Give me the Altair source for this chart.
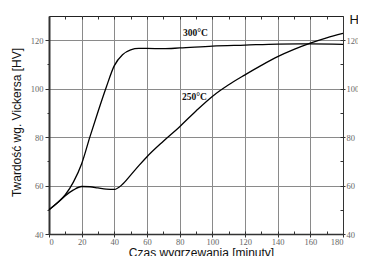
import altair as alt
import pandas as pd

# 300°C series (time [min], hardness [HV])
t300 = [0, 5, 10, 15, 20, 25, 30, 35, 40, 45, 50, 55, 60, 70, 80, 100, 120, 140, 160, 180]
hv300 = [50, 52.8, 56.2, 61.5, 69, 80, 90.5, 100.5, 109.5, 114, 116, 116.6, 116.6, 116.5, 116.8, 117.6, 118, 118.4, 118.5, 118.3]
# 250°C series
t250 = [0, 5, 10, 15, 20, 25, 30, 35, 40, 45, 50, 55, 60, 70, 80, 90, 100, 110, 120, 130, 140, 150, 160, 170, 180]
hv250 = [50, 52.8, 55.8, 58.2, 59.6, 59.5, 59, 58.5, 58.4, 60.5, 64.3, 68.2, 71.9, 78.3, 84.3, 90.8, 96.8, 101.6, 105.7, 109.6, 113.2, 116.2, 118.8, 121, 122.8]

labels = ["300°C", "250°C"]
label_t = [89.7, 89]
label_hv = [123, 96.5]

x_major = [0, 20, 40, 60, 80, 100, 120, 140, 160, 180]
x_all = list(range(0, 181, 10))
y_major = [40, 60, 80, 100, 120]
y_all = [40, 50, 60, 70, 80, 90, 100, 110, 120]

df = pd.concat([
    pd.DataFrame({"t": t300, "hv": hv300, "s": "300"}),
    pd.DataFrame({"t": t250, "hv": hv250, "s": "250"}),
])
lab = pd.DataFrame({"t": label_t, "hv": label_hv, "txt": labels})

xs = alt.Scale(domain=[0, 180], nice=False, zero=False)
ys = alt.Scale(domain=[40, 130], nice=False, zero=False)

LF = "Liberation Serif"
LC = "#666666"

main = alt.Chart(df).mark_line(color="black", strokeWidth=1.3, interpolate="monotone").encode(
    x=alt.X("t:Q", scale=xs, axis=alt.Axis(
        values=x_major, grid=True, gridColor="#8a8a8a", gridWidth=1,
        domainColor="#333333", domainWidth=1.5, tickColor="#333333", tickSize=3,
        labelFont=LF, labelFontSize=8.5, labelColor=LC, labelPadding=0,
        title="Czas wygrzewania [minuty]", titleFont="Liberation Sans",
        titleFontSize=12, titleFontWeight="normal", titleColor="#111111",
        titleX=152, titleY=22.5, titleBaseline="alphabetic")),
    y=alt.Y("hv:Q", scale=ys, axis=alt.Axis(
        values=y_all, grid=True,
        gridOpacity={"condition": {"test": "datum.value % 20 == 0", "value": 1}, "value": 0},
        gridColor="#8a8a8a", gridWidth=1,
        domainColor="#333333", domainWidth=2, tickColor="#333333",
        tickSize={"condition": {"test": "datum.value % 20 == 0", "value": 4}, "value": 2},
        labelExpr="datum.value % 20 == 0 ? datum.label : ''",
        labelFont=LF, labelFontSize=8.5, labelColor=LC, labelPadding=2,
        title="Twardość wg. Vickersa [HV]", titleFont="Liberation Sans",
        titleFontSize=12, titleFontWeight="normal", titleColor="#111111",
        titleX=-26, titleY=106)),
    detail="s:N",
)

# inward ticks along bottom and top edges
bottom_in = alt.Chart(df).mark_line(opacity=0).encode(
    x=alt.X("t:Q", scale=xs, axis=alt.Axis(
        orient="bottom", offset=-3, values=x_all, domain=False, grid=False, labels=False,
        tickSize=3, tickColor="#333333", title=None)),
    y=alt.Y("hv:Q", scale=ys, axis=None),
    detail="s:N",
)
top_in = alt.Chart(df).mark_line(opacity=0).encode(
    x=alt.X("t:Q", scale=xs, axis=alt.Axis(
        orient="top", offset=-3, values=x_all, domain=False, grid=False, labels=False,
        tickSize=3, tickColor="#333333", title=None)),
    y=alt.Y("hv:Q", scale=ys, axis=None),
    detail="s:N",
)
right_ax = alt.Chart(df).mark_line(opacity=0).encode(
    x=alt.X("t:Q", scale=xs, axis=None),
    y=alt.Y("hv:Q", scale=ys, axis=alt.Axis(
        orient="right", values=y_major, grid=False, domainColor="#333333", domainWidth=1,
        tickColor="#333333", tickSize=2,
        labelFont=LF, labelFontSize=8.5, labelColor=LC, labelPadding=1,
        title="HV", titleFont="Liberation Sans", titleFontSize=13,
        titleFontWeight="normal", titleColor="#111111", titleAngle=0,
        titleAlign="left", titleBaseline="middle", titleX=6, titleY=3)),
    detail="s:N",
)
right_in = alt.Chart(df).mark_line(opacity=0).encode(
    x=alt.X("t:Q", scale=xs, axis=None),
    y=alt.Y("hv:Q", scale=ys, axis=alt.Axis(
        orient="right", offset=-3, values=y_all, domain=False, grid=False, labels=False,
        tickSize=3, tickColor="#333333", title=None)),
    detail="s:N",
)

text = alt.Chart(lab).mark_text(
    font=LF, fontSize=9.5, fontWeight="bold", color="#111111", align="center", baseline="middle"
).encode(
    x=alt.X("t:Q", scale=xs, axis=None),
    y=alt.Y("hv:Q", scale=ys, axis=None),
    text="txt:N",
)

chart = alt.layer(main, bottom_in, top_in, right_ax, right_in, text).resolve_axis(
    x="independent", y="independent"
).properties(
    width=294, height=218,
    autosize=alt.AutoSizeParams(type="none"),
    padding={"left": 41, "top": 8, "right": 15, "bottom": 22},
    background="white",
).configure_view(stroke="#222222", strokeWidth=1)

chart.save("out.html", embed_options={"renderer": "svg", "actions": False})
